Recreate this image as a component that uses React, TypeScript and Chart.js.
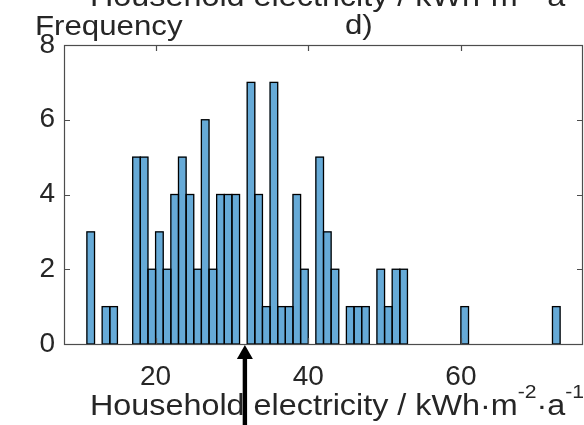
import { useEffect, useRef } from 'react';
import { Chart, registerables } from 'chart.js';

Chart.register(...registerables);

// ---- data ----
const binStarts = [11, 13, 14, 17, 18, 19, 20, 21, 22, 23, 24, 25, 26, 27, 28, 29, 30, 32, 33, 34, 35, 36, 37, 38, 39, 41, 42, 43, 45, 46, 47, 49, 50, 51, 52, 60, 72];
const counts = [3, 1, 1, 5, 5, 2, 3, 2, 4, 5, 4, 2, 6, 2, 4, 4, 4, 7, 4, 1, 7, 1, 1, 4, 2, 5, 3, 2, 1, 1, 1, 2, 1, 2, 2, 1, 1];
const binWidth = 1;
const xTicks = [20, 40, 60];
const yTicks = [0, 2, 4, 6, 8];
const xMin = 8;
const xMax = 76;
const yMin = 0;
const yMax = 8;
const markerValue = 31.7;

const yTitle = 'Frequency';
const panelLabel = 'd)';
const xTitleParts = [
  { text: 'Household electricity / kWh\u00B7m', sup: false },
  { text: '-2', sup: true },
  { text: '\u00B7a', sup: false },
  { text: '-1', sup: true },
];

const FONT = '"Liberation Sans", Arial, Helvetica, sans-serif';
const TEXT = '#262626';
const AXIS = '#4d4d4d';
const SX = 1.115;

function drawParts(ctx: CanvasRenderingContext2D, parts: { text: string; sup: boolean }[], x: number, baseline: number, size: number) {
  ctx.save();
  ctx.translate(x, baseline);
  ctx.scale(SX, 1);
  ctx.fillStyle = TEXT;
  ctx.textBaseline = 'alphabetic';
  ctx.textAlign = 'left';
  let cx = 0;
  for (const p of parts) {
    const s = p.sup ? Math.round(size * 0.64) : size;
    ctx.font = `${s}px ${FONT}`;
    ctx.fillText(p.text, cx, p.sup ? -size * 0.58 : 0);
    cx += ctx.measureText(p.text).width;
  }
  ctx.restore();
}

const decorPlugin = {
  id: 'decor',
  afterDatasetsDraw(chart: any) {
    const ctx: CanvasRenderingContext2D = chart.ctx;
    const xs = chart.scales.x;
    const ys = chart.scales.y;
    const meta = chart.getDatasetMeta(0);
    ctx.save();
    // bar edges (shared like MATLAB)
    ctx.strokeStyle = '#000000';
    ctx.lineWidth = 1.3;
    meta.data.forEach((el: any) => {
      const { x, y, base, width } = el.getProps(['x', 'y', 'base', 'width'], true);
      ctx.strokeRect(x - width / 2, y, width, base - y);
    });
    // axes box
    const { left, right, top, bottom } = chart.chartArea;
    ctx.strokeStyle = AXIS;
    ctx.lineWidth = 1.2;
    ctx.strokeRect(left + 0.5, top + 0.5, right - left - 1, bottom - top);
    // inward ticks
    const tl = 6;
    ctx.beginPath();
    xTicks.forEach((v) => {
      const px = Math.round(xs.getPixelForValue(v)) + 0.5;
      ctx.moveTo(px, bottom);
      ctx.lineTo(px, bottom - tl);
      ctx.moveTo(px, top);
      ctx.lineTo(px, top + tl);
    });
    yTicks.forEach((v) => {
      const py = Math.round(ys.getPixelForValue(v)) + 0.5;
      ctx.moveTo(left, py);
      ctx.lineTo(left + tl, py);
      ctx.moveTo(right, py);
      ctx.lineTo(right - tl, py);
    });
    ctx.stroke();
    ctx.restore();
  },
  afterDraw(chart: any) {
    const ctx: CanvasRenderingContext2D = chart.ctx;
    const xs = chart.scales.x;
    const ys = chart.scales.y;
    // titles
    drawParts(ctx, xTitleParts, 90, 6, 29);
    drawParts(ctx, [{ text: yTitle, sup: false }], 35, 35, 28);
    drawParts(ctx, [{ text: panelLabel, sup: false }], 345, 34, 28);
    drawParts(ctx, xTitleParts, 90, 415, 29);
    // marker arrow
    const px = xs.getPixelForValue(markerValue);
    const tip = ys.getPixelForValue(yMin) + 1;
    ctx.save();
    ctx.fillStyle = '#000000';
    ctx.beginPath();
    ctx.moveTo(px, tip);
    ctx.lineTo(px - 8, tip + 14);
    ctx.lineTo(px + 8, tip + 14);
    ctx.closePath();
    ctx.fill();
    ctx.fillRect(px - 2.2, tip + 12, 4.4, chart.height - tip - 12);
    ctx.restore();
  },
};

export default function App() {
  const ref = useRef<HTMLCanvasElement | null>(null);
  useEffect(() => {
    if (!ref.current) return;
    const data = binStarts.map((b, i) => ({ x: b + binWidth / 2, y: counts[i] }));
    const chart = new Chart(ref.current, {
      type: 'bar',
      data: {
        datasets: [
          {
            data: data as any,
            backgroundColor: '#66AAD7',
            borderWidth: 0,
            barPercentage: 1,
            categoryPercentage: 1,
          },
        ],
      },
      options: {
        animation: false,
        responsive: false,
        devicePixelRatio: 1,
        layout: { padding: { top: 45, right: 1, left: 0, bottom: 0 } },
        plugins: { legend: { display: false }, tooltip: { enabled: false } },
        scales: {
          x: {
            type: 'linear',
            min: xMin,
            max: xMax,
            offset: false,
            grid: { display: false, drawTicks: false },
            border: { display: false },
            afterBuildTicks: (s: any) => {
              s.ticks = xTicks.map((v) => ({ value: v }));
            },
            afterFit: (s: any) => {
              s.height = 81;
            },
            ticks: { font: { family: FONT, size: 28 }, color: TEXT, padding: 16, maxRotation: 0, autoSkip: false },
          },
          y: {
            type: 'linear',
            min: yMin,
            max: yMax,
            grid: { display: false, drawTicks: false },
            border: { display: false },
            afterBuildTicks: (s: any) => {
              s.ticks = yTicks.map((v) => ({ value: v }));
            },
            afterFit: (s: any) => {
              s.width = 64;
            },
            ticks: { font: { family: FONT, size: 28 }, color: TEXT, padding: 9 },
          },
        },
      },
      plugins: [decorPlugin],
    });
    return () => chart.destroy();
  }, []);
  return (
    <div style={{ position: 'fixed', left: 0, top: 0, width: 584, height: 425, background: '#ffffff' }}>
      <canvas ref={ref} width={584} height={425} style={{ width: 584, height: 425, display: 'block' }} />
    </div>
  );
}
